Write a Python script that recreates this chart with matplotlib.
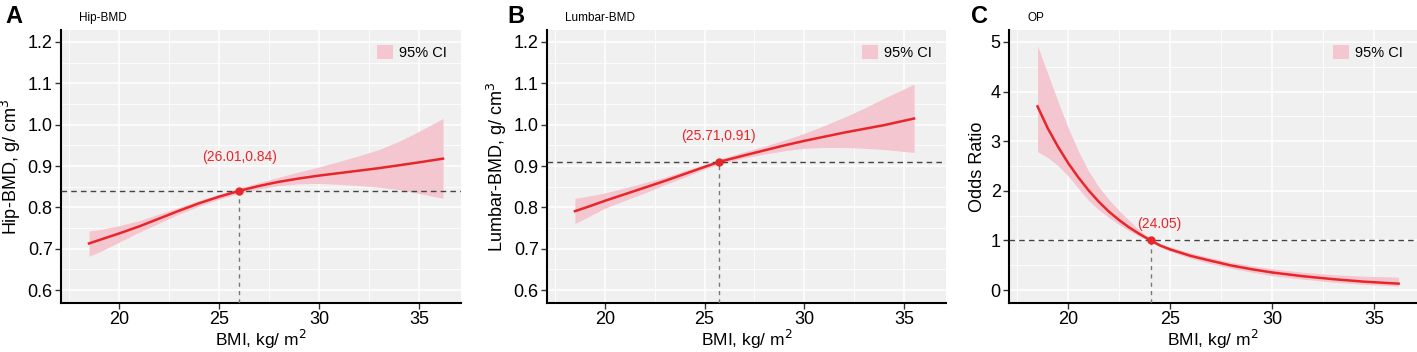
import numpy as np
import matplotlib.pyplot as plt
from matplotlib.patches import Patch
from matplotlib.ticker import MultipleLocator

plt.rcParams['font.family'] = ['Liberation Sans', 'DejaVu Sans']

# values
# A: Hip-BMD
hip_x = [18.5, 19, 20, 21, 22, 23, 24, 25, 26.01, 27, 28, 29, 30, 31, 32, 33, 34, 35, 36.2]
hip_y = [0.713, 0.721, 0.737, 0.754, 0.773, 0.792, 0.810, 0.826, 0.840, 0.852, 0.862,
         0.870, 0.877, 0.883, 0.889, 0.895, 0.902, 0.909, 0.918]
hip_lo = [0.682, 0.692, 0.716, 0.740, 0.762, 0.784, 0.803, 0.820, 0.834, 0.845, 0.853,
          0.857, 0.858, 0.856, 0.853, 0.849, 0.843, 0.834, 0.822]
hip_hi = [0.743, 0.746, 0.756, 0.768, 0.784, 0.800, 0.817, 0.832, 0.847, 0.860, 0.873,
          0.886, 0.898, 0.911, 0.925, 0.940, 0.960, 0.984, 1.015]

# B: Lumbar-BMD
lum_x = [18.5, 19, 20, 21, 22, 23, 24, 25, 25.71, 27, 28, 29, 30, 31, 32, 33, 34, 35.5]
lum_y = [0.791, 0.799, 0.816, 0.832, 0.848, 0.864, 0.881, 0.898, 0.910, 0.926, 0.938,
         0.950, 0.961, 0.971, 0.981, 0.990, 0.999, 1.015]
lum_lo = [0.761, 0.773, 0.798, 0.817, 0.835, 0.855, 0.873, 0.893, 0.904, 0.920, 0.929,
          0.937, 0.943, 0.945, 0.945, 0.943, 0.940, 0.933]
lum_hi = [0.822, 0.826, 0.835, 0.847, 0.860, 0.873, 0.889, 0.904, 0.916, 0.935, 0.948,
          0.963, 0.979, 0.998, 1.018, 1.040, 1.064, 1.098]

# C: OP odds ratio
op_x = [18.5, 19, 19.5, 20, 20.5, 21, 21.5, 22, 22.5, 23, 23.5, 24.05, 24.5, 25,
        26, 27, 28, 29, 30, 31.5, 33, 34.5, 36.2]
op_y = [3.70, 3.26, 2.89, 2.56, 2.27, 2.01, 1.78, 1.58, 1.41, 1.26, 1.13, 1.00, 0.90,
        0.82, 0.69, 0.59, 0.495, 0.42, 0.355, 0.28, 0.22, 0.17, 0.13]
op_lo = [2.79, 2.67, 2.51, 2.30, 2.05, 1.81, 1.62, 1.46, 1.32, 1.19, 1.08, 0.97, 0.87,
         0.78, 0.64, 0.53, 0.44, 0.36, 0.29, 0.22, 0.16, 0.115, 0.08]
op_hi = [4.92, 4.36, 3.80, 3.27, 2.80, 2.40, 2.08, 1.82, 1.60, 1.40, 1.20, 1.03, 0.94,
         0.87, 0.75, 0.65, 0.56, 0.49, 0.43, 0.36, 0.31, 0.28, 0.26]

panels = [
    dict(letter='A', title='Hip-BMD', ylabel='Hip-BMD, g/ cm$^3$',
         x=hip_x, y=hip_y, lo=hip_lo, hi=hip_hi, px=26.01, py=0.84,
         label='(26.01,0.84)', tx=26.01, ty=0.922, ylim=(0.569, 1.229),
         yticks=[0.6, 0.7, 0.8, 0.9, 1.0, 1.1, 1.2], ymin=0.05,
         fmt='{:.1f}', left=61, width=400, letter_x=5, title_x=79),
    dict(letter='B', title='Lumbar-BMD', ylabel='Lumbar-BMD, g/ cm$^3$',
         x=lum_x, y=lum_y, lo=lum_lo, hi=lum_hi, px=25.71, py=0.91,
         label='(25.71,0.91)', tx=25.71, ty=0.972, ylim=(0.569, 1.229),
         yticks=[0.6, 0.7, 0.8, 0.9, 1.0, 1.1, 1.2], ymin=0.05,
         fmt='{:.1f}', left=547, width=399, letter_x=507, title_x=565),
    dict(letter='C', title='OP', ylabel='Odds Ratio',
         x=op_x, y=op_y, lo=op_lo, hi=op_hi, px=24.05, py=1.0,
         label='(24.05)', tx=24.45, ty=1.33, ylim=(-0.26, 5.24),
         yticks=[0, 1, 2, 3, 4, 5], ymin=0.5,
         fmt='{:.0f}', left=1009, width=408, letter_x=971, title_x=1027),
]

W, H = 1417, 352
fig = plt.figure(figsize=(W / 100, H / 100), dpi=100)

line_col = '#E8262A'
fill_col = '#F4C6CF'

for p in panels:
    width = p['width']
    ax = fig.add_axes([p['left'] / W, 49 / H, width / W, 273 / H])
    ax.set_facecolor('#F0F0F0')
    ax.fill_between(p['x'], p['lo'], p['hi'], color=fill_col, lw=0, zorder=2)
    ax.plot(p['x'], p['y'], color=line_col, lw=1.8, zorder=3)
    ax.axhline(p['py'], color='#444444', lw=1, ls=(0, (4, 3)), zorder=4)
    ax.plot([p['px'], p['px']], [p['ylim'][0], p['py']], color='#777777',
            lw=1, ls=(0, (3, 3)), zorder=4)
    ax.plot(p['px'], p['py'], 'o', color=line_col, ms=5, zorder=5)
    ax.text(p['tx'], p['ty'], p['label'], color=line_col, fontsize=10,
            ha='center', va='center', zorder=5)

    ax.set_xlim(17.1, 37.1)
    ax.set_ylim(*p['ylim'])
    ax.set_xticks([20, 25, 30, 35])
    ax.xaxis.set_minor_locator(MultipleLocator(2.5))
    ax.set_yticks(p['yticks'])
    ax.set_yticklabels([p['fmt'].format(v) for v in p['yticks']])
    ax.yaxis.set_minor_locator(MultipleLocator(p['ymin']))
    ax.grid(which='major', color='white', lw=1.1, zorder=0)
    ax.grid(which='minor', color='white', lw=0.6, zorder=0)
    ax.set_axisbelow(True)
    ax.tick_params(which='minor', length=0)
    ax.tick_params(which='major', length=4, width=1, color='#333333',
                   labelsize=13, labelcolor='black', pad=2)
    for s in ['top', 'right']:
        ax.spines[s].set_visible(False)
    for s in ['left', 'bottom']:
        ax.spines[s].set_linewidth(1.5)
        ax.spines[s].set_color('black')
    ax.set_xlabel('BMI, kg/ m$^2$', fontsize=12.5, labelpad=0)
    ax.set_ylabel(p['ylabel'], fontsize=13, labelpad=3)

    ax.legend(handles=[Patch(facecolor=fill_col, edgecolor='none', label='95% CI')],
              loc='upper right', bbox_to_anchor=(1 - 14 / width, 0.945),
              frameon=False, fontsize=10.5, handlelength=1.1, handleheight=1.1,
              handletextpad=0.4, borderaxespad=0, borderpad=0)

    fig.text(p['letter_x'] / W, 1 - 5 / H, p['letter'], fontsize=17,
             fontweight='bold', va='top', ha='left')
    fig.text(p['title_x'] / W, 1 - 18 / H, p['title'], fontsize=8.5,
             va='center', ha='left')

fig.savefig('out.png', dpi=100)
